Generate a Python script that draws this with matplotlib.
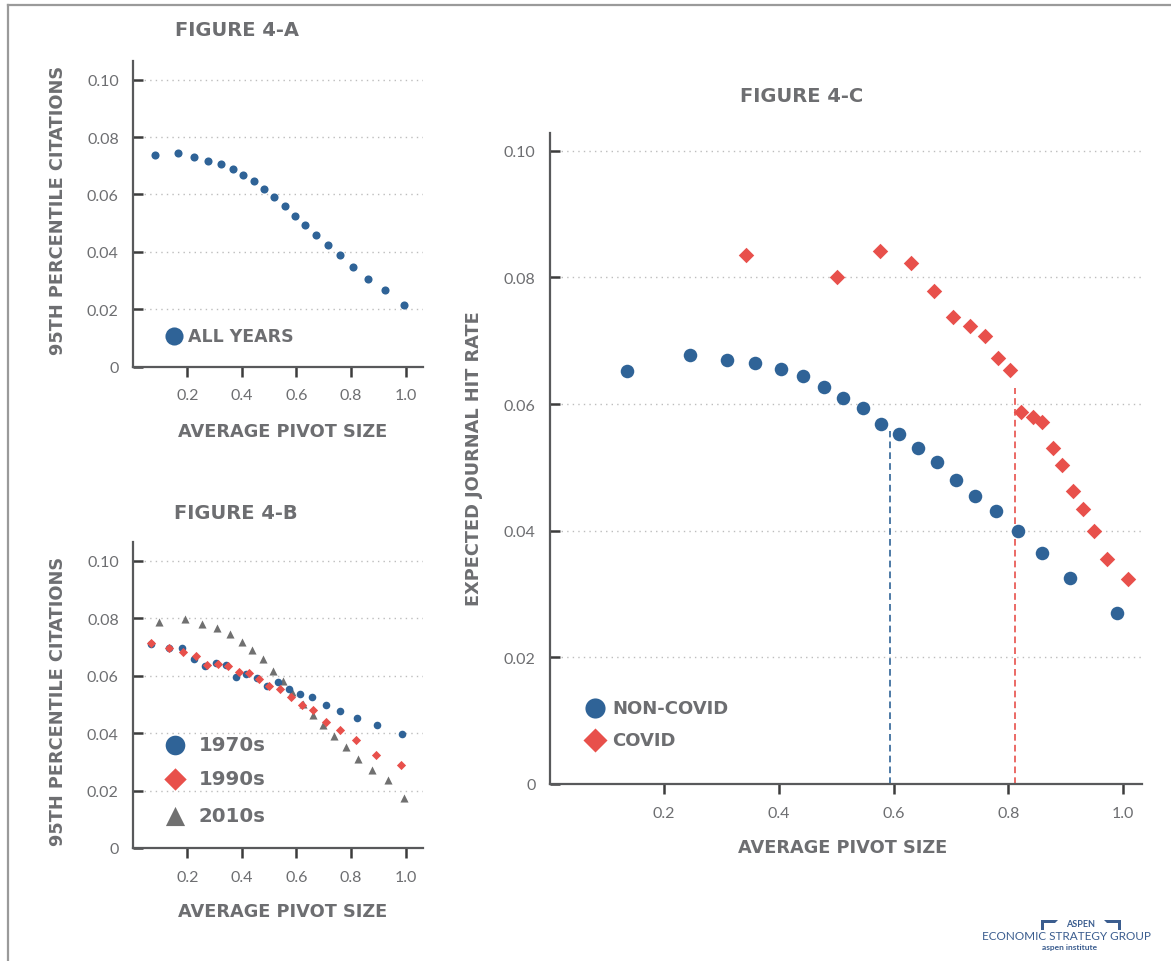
import matplotlib
matplotlib.use("Agg")
import matplotlib.pyplot as plt
from matplotlib.lines import Line2D
from matplotlib.patches import Polygon

# ---------------- data ----------------
# Figure 4-A (all years)
a_x = [0.081, 0.166, 0.226, 0.277, 0.323, 0.367, 0.406, 0.445, 0.483, 0.519,
       0.557, 0.595, 0.633, 0.673, 0.715, 0.759, 0.808, 0.862, 0.925, 0.993]
a_y = [0.0739, 0.0746, 0.0730, 0.0717, 0.0706, 0.0690, 0.0669, 0.0647, 0.0619, 0.0591,
       0.0561, 0.0526, 0.0495, 0.0459, 0.0423, 0.0388, 0.0348, 0.0306, 0.0268, 0.0215]

# Figure 4-B (by decade)
b70_x = [0.066, 0.134, 0.182, 0.226, 0.266, 0.305, 0.342, 0.380, 0.417, 0.455,
         0.493, 0.532, 0.573, 0.614, 0.658, 0.709, 0.760, 0.821, 0.895, 0.986]
b70_y = [0.0710, 0.0695, 0.0696, 0.0658, 0.0635, 0.0643, 0.0637, 0.0596, 0.0605, 0.0593,
         0.0564, 0.0577, 0.0553, 0.0537, 0.0526, 0.0497, 0.0478, 0.0451, 0.0429, 0.0397]
b90_x = [0.066, 0.134, 0.186, 0.232, 0.274, 0.311, 0.350, 0.389, 0.425, 0.464,
         0.501, 0.539, 0.579, 0.619, 0.662, 0.710, 0.760, 0.819, 0.892, 0.982]
b90_y = [0.0712, 0.0695, 0.0682, 0.0667, 0.0638, 0.0642, 0.0633, 0.0611, 0.0608, 0.0589,
         0.0565, 0.0552, 0.0527, 0.0498, 0.0480, 0.0437, 0.0410, 0.0376, 0.0324, 0.0288]
b10_x = [0.095, 0.190, 0.254, 0.308, 0.356, 0.400, 0.439, 0.477, 0.515, 0.550,
         0.585, 0.623, 0.660, 0.696, 0.737, 0.780, 0.825, 0.876, 0.934, 0.993]
b10_y = [0.0786, 0.0798, 0.0779, 0.0767, 0.0746, 0.0718, 0.0688, 0.0657, 0.0615, 0.0580,
         0.0542, 0.0502, 0.0463, 0.0428, 0.0390, 0.0350, 0.0311, 0.0271, 0.0236, 0.0173]

# Figure 4-C (COVID vs non-COVID)
nc_x = [0.135, 0.245, 0.309, 0.359, 0.404, 0.442, 0.478, 0.512, 0.546, 0.578,
        0.610, 0.642, 0.675, 0.708, 0.742, 0.778, 0.817, 0.858, 0.907, 0.989]
nc_y = [0.0652, 0.0677, 0.0670, 0.0665, 0.0656, 0.0644, 0.0627, 0.0610, 0.0594, 0.0569,
        0.0553, 0.0531, 0.0508, 0.0480, 0.0455, 0.0431, 0.0399, 0.0365, 0.0326, 0.0270]
cv_x = [0.343, 0.501, 0.576, 0.630, 0.670, 0.704, 0.733, 0.759, 0.781, 0.802,
        0.822, 0.842, 0.859, 0.877, 0.894, 0.913, 0.930, 0.949, 0.971, 1.009]
cv_y = [0.0836, 0.0800, 0.0842, 0.0823, 0.0778, 0.0738, 0.0724, 0.0708, 0.0673, 0.0653,
        0.0587, 0.0580, 0.0571, 0.0530, 0.0504, 0.0462, 0.0434, 0.0400, 0.0356, 0.0323]
# vertical reference lines (x position, height)
ref_nc = (0.593, 0.0558)
ref_cv = (0.812, 0.0626)

y_ticks = [0, 0.02, 0.04, 0.06, 0.08, 0.10]
y_ticklabels = ["0", "0.02", "0.04", "0.06", "0.08", "0.10"]
x_ticks = [0.2, 0.4, 0.6, 0.8, 1.0]
x_ticklabels = ["0.2", "0.4", "0.6", "0.8", "1.0"]

# ---------------- style ----------------
BLUE = "#2f6397"
RED = "#e8504b"
GRAY_MK = "#707070"
TXT = "#6d6e71"
SPINE = "#58595b"
FONT = "Lato"
HFONT = "DejaVu Sans"

W, H = 1171, 962
fig = plt.figure(figsize=(W / 100, H / 100), dpi=100)
fig.patch.set_facecolor("white")


def px_axes(l, t, r, b):
    return fig.add_axes([l / W, 1 - b / H, (r - l) / W, (b - t) / H])


def ftext(x, y, s, **kw):
    kw.setdefault("family", HFONT)
    kw.setdefault("color", TXT)
    kw.setdefault("fontweight", "bold")
    return fig.text(x / W, 1 - y / H, s, **kw)


def style(ax, xmax, ymax, lab=11.5):
    ax.set_xlim(0, xmax)
    ax.set_ylim(0, ymax)
    for s in ("top", "right"):
        ax.spines[s].set_visible(False)
    for s in ("left", "bottom"):
        ax.spines[s].set_color(SPINE)
        ax.spines[s].set_linewidth(1.6)
    ax.set_yticks(y_ticks)
    ax.set_yticklabels(y_ticklabels)
    ax.set_xticks(x_ticks)
    ax.set_xticklabels(x_ticklabels)
    ax.tick_params(axis="y", direction="in", length=7.5, width=1.8, color="#3c3c3c",
                   pad=10, labelsize=lab, labelcolor=TXT)
    ax.tick_params(axis="x", direction="out", length=7.5, width=1.8, color="#3c3c3c",
                   pad=8, labelsize=lab, labelcolor=TXT)
    for t in ax.get_xticklabels() + ax.get_yticklabels():
        t.set_family(FONT)
    ax.grid(axis="y", linestyle=(0, (1, 3)), color="#bdbdbd", linewidth=1.0)
    ax.set_axisbelow(True)


# frame lines
fig.add_artist(Line2D([8 / W, 8 / W], [0, 1 - 6 / H], color="#9a9a9a", lw=1.6,
                      transform=fig.transFigure))
fig.add_artist(Line2D([8 / W, 1], [1 - 6 / H, 1 - 6 / H], color="#9a9a9a", lw=1.6,
                      transform=fig.transFigure))

# ---------------- Figure 4-A ----------------
axA = px_axes(132.7, 62.3, 423.3, 367.7)
style(axA, 1.065, 0.1064)
axA.scatter(a_x, a_y, s=34, color=BLUE, linewidths=0, zorder=3)
axA.scatter([0.141], [0.1015], s=170, color=BLUE, linewidths=0,
            transform=axA.transAxes, clip_on=False)
axA.text((188 - 132.7) / 290.6, 0.1015, "ALL YEARS", transform=axA.transAxes, family=HFONT,
         fontsize=12.5, fontweight="bold", color=TXT, va="center", ha="left")
ftext(237, 31, "FIGURE 4-A", fontsize=14, ha="center", va="center")
ftext(283, 432, "AVERAGE PIVOT SIZE", fontsize=12.8, ha="center", va="center")
ftext(58, 210, "95TH PERCENTILE CITATIONS", fontsize=12.8,
      ha="center", va="center", rotation=90)

# ---------------- Figure 4-B ----------------
axB = px_axes(132.7, 543.3, 423.3, 849)
style(axB, 1.065, 0.1064)
axB.scatter(b10_x, b10_y, s=34, marker="^", color=GRAY_MK, linewidths=0, zorder=3)
axB.scatter(b70_x, b70_y, s=30, marker="o", color=BLUE, linewidths=0, zorder=4)
axB.scatter(b90_x, b90_y, s=22, marker="D", color=RED, linewidths=0, zorder=5)
leg_x = (175.3 - 132.7) / 290.6
for yy, mk, col, sz, lab in [(746, "o", BLUE, 200, "1970s"),
                             (780, "D", RED, 130, "1990s"),
                             (816.7, "^", GRAY_MK, 190, "2010s")]:
    fy = (849 - yy) / 305.7
    axB.scatter([leg_x], [fy], s=sz, marker=mk, color=col, linewidths=0,
                transform=axB.transAxes, clip_on=False)
    axB.text((199 - 132.7) / 290.6, fy, lab, transform=axB.transAxes, family=HFONT,
             fontsize=14.2, fontweight="bold", color=TXT, va="center", ha="left")
ftext(236, 514, "FIGURE 4-B", fontsize=14, ha="center", va="center")
ftext(283, 912, "AVERAGE PIVOT SIZE", fontsize=12.8, ha="center", va="center")
ftext(58, 701, "95TH PERCENTILE CITATIONS", fontsize=12.8,
      ha="center", va="center", rotation=90)

# ---------------- Figure 4-C ----------------
axC = px_axes(549.5, 134, 1141.5, 785)
style(axC, 1.032, 0.1028, lab=11.5)
axC.scatter(nc_x, nc_y, s=95, marker="o", color=BLUE, linewidths=0, zorder=3)
axC.scatter(cv_x, cv_y, s=62, marker="D", color=RED, linewidths=0, zorder=3)
axC.plot([ref_nc[0], ref_nc[0]], [0, ref_nc[1]], color=BLUE, lw=1.2,
         linestyle=(0, (4, 2.5)), zorder=2)
axC.plot([ref_cv[0], ref_cv[0]], [0, ref_cv[1]], color=RED, lw=1.2,
         linestyle=(0, (4, 2.5)), zorder=2)
cw, ch = 592.0, 651.0
for yy, mk, col, sz, lab in [(709.3, "o", BLUE, 210, "NON-COVID"),
                             (740.7, "D", RED, 150, "COVID")]:
    fy = (785 - yy) / ch
    axC.scatter([(594.7 - 549.5) / cw], [fy], s=sz, marker=mk, color=col, linewidths=0,
                transform=axC.transAxes, clip_on=False)
    axC.text((612 - 549.5) / cw, fy, lab, transform=axC.transAxes, family=HFONT,
             fontsize=13, fontweight="bold", color=TXT, va="center", ha="left")
ftext(802, 96, "FIGURE 4-C", fontsize=14, ha="center", va="center")
ftext(843, 848, "AVERAGE PIVOT SIZE", fontsize=12.8, ha="center", va="center")
ftext(474, 459, "EXPECTED JOURNAL HIT RATE", fontsize=12.8,
      ha="center", va="center", rotation=90)

# ---------------- logo ----------------
LOGO = "#3b5d8f"
ftext(1081, 925, "ASPEN", family=FONT, fontsize=6.5, color=LOGO, ha="center", va="center")
ftext(1066, 937, "ECONOMIC STRATEGY GROUP", family=FONT, fontweight="normal", fontsize=8.5,
      color=LOGO, ha="center", va="center")
ftext(1070, 948, "aspen institute", family=FONT, fontsize=6, color=LOGO, ha="center",
      va="center")
for pts in ([(1041, 921), (1058, 921), (1055, 924), (1044, 924), (1044, 931), (1041, 931)],
            [(1121, 921), (1104, 921), (1107, 924), (1118, 924), (1118, 931), (1121, 931)]):
    fig.add_artist(Polygon([(x / W, 1 - y / H) for x, y in pts], closed=True,
                           facecolor=LOGO, edgecolor="none", transform=fig.transFigure))

fig.savefig("out.png", dpi=100, facecolor="white")
